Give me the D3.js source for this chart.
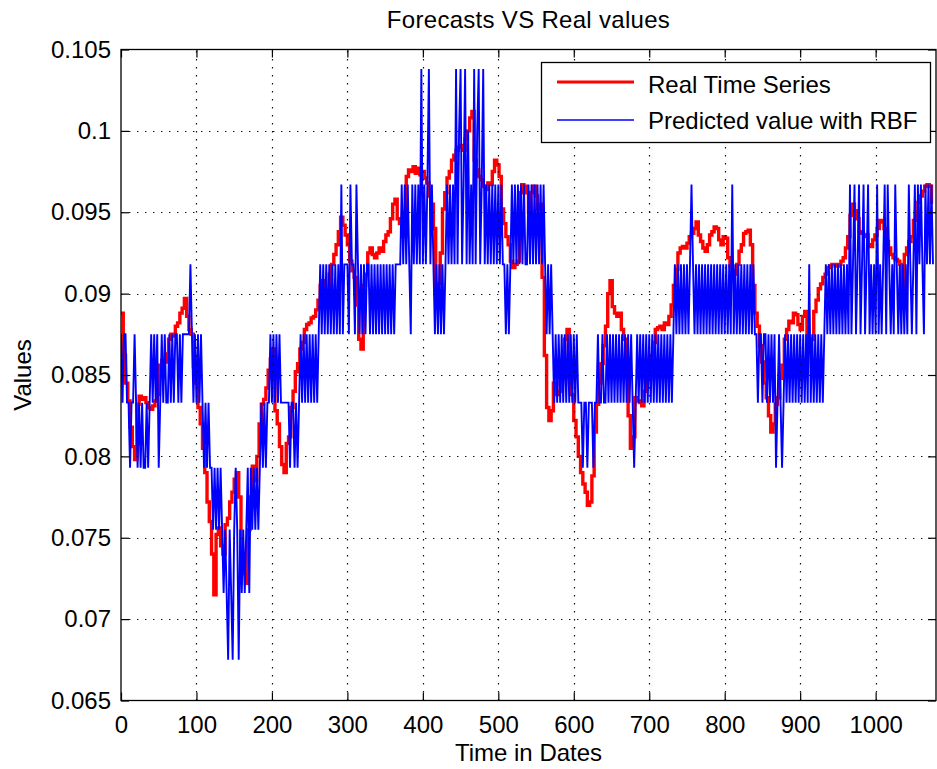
<!DOCTYPE html>
<html>
<head>
<meta charset="utf-8">
<script src="https://cdn.jsdelivr.net/npm/d3@7"></script>
<style>
  html, body { margin: 0; padding: 0; background: #fff; }
  svg text { font-family: "Liberation Sans", Arial, Helvetica, sans-serif; fill: #000; }
</style>
</head>
<body>
<svg id="chart" width="937" height="769"></svg>
<script>
// ---- chart text ----
const titleText = "Forecasts VS Real values";
const xLabelText = "Time in Dates";
const yLabelText = "Values";
const seriesNames = ["Real Time Series", "Predicted value with RBF"];

// ---- axis ticks ----
const xTicks = [0, 100, 200, 300, 400, 500, 600, 700, 800, 900, 1000];
const yTicks = [0.065, 0.07, 0.075, 0.08, 0.085, 0.09, 0.095, 0.1, 0.105];
const yTickLabels = ["0.065", "0.07", "0.075", "0.08", "0.085", "0.09", "0.095", "0.1", "0.105"];
const xDomain = [0, 1080];
const yDomain = [0.065, 0.105];

// ---- real series: one value every 3 days, from day 0 ----
const realStep = 3;
const realValues = [
  0.0888, 0.0862, 0.0845, 0.0834, 0.0818, 0.0806, 0.0798, 0.0832, 0.0837, 0.0835, 0.0836, 0.0833, 0.0830, 0.0829, 0.0831, 0.0834, 0.0838, 0.0856, 0.0859, 0.0858,
  0.0863, 0.0872, 0.0875, 0.0874, 0.0880, 0.0882, 0.0888, 0.0891, 0.0897, 0.0886, 0.0878, 0.0875, 0.0855, 0.0845, 0.0830, 0.0820, 0.0805, 0.0790, 0.0772, 0.0760,
  0.0740, 0.0715, 0.0752, 0.0756, 0.0745, 0.0740, 0.0758, 0.0762, 0.0772, 0.0778, 0.0786, 0.0790, 0.0775, 0.0738, 0.0728, 0.0722, 0.0755, 0.0775, 0.0794, 0.0785,
  0.0800, 0.0820, 0.0832, 0.0835, 0.0842, 0.0853, 0.0860, 0.0866, 0.0828, 0.0820, 0.0806, 0.0795, 0.0790, 0.0808, 0.0812, 0.0830, 0.0840, 0.0852, 0.0857, 0.0866,
  0.0870, 0.0878, 0.0881, 0.0882, 0.0885, 0.0886, 0.0890, 0.0896, 0.0905, 0.0908, 0.0902, 0.0899, 0.0912, 0.0918, 0.0924, 0.0930, 0.0938, 0.0947, 0.0942, 0.0936,
  0.0930, 0.0920, 0.0914, 0.0910, 0.0893, 0.0872, 0.0866, 0.0905, 0.0912, 0.0925, 0.0928, 0.0924, 0.0922, 0.0925, 0.0928, 0.0926, 0.0932, 0.0936, 0.0938, 0.0946,
  0.0955, 0.0958, 0.0946, 0.0943, 0.0935, 0.0950, 0.0972, 0.0976, 0.0975, 0.0978, 0.0974, 0.0977, 0.0973, 0.0975, 0.0971, 0.0968, 0.0960, 0.0955, 0.0940, 0.0902,
  0.0906, 0.0925, 0.0952, 0.0962, 0.0971, 0.0975, 0.0982, 0.0985, 0.0988, 0.0990, 0.0991, 0.0988, 0.0995, 0.1000, 0.1008, 0.1012, 0.0982, 0.0976, 0.0972, 0.0970,
  0.0966, 0.0964, 0.0968, 0.0967, 0.0975, 0.0982, 0.0979, 0.0972, 0.0952, 0.0943, 0.0935, 0.0930, 0.0920, 0.0916, 0.0918, 0.0920, 0.0962, 0.0967, 0.0966, 0.0962,
  0.0950, 0.0962, 0.0966, 0.0960, 0.0952, 0.0955, 0.0910, 0.0862, 0.0830, 0.0822, 0.0828, 0.0845, 0.0838, 0.0840, 0.0846, 0.0848, 0.0872, 0.0878, 0.0850, 0.0838,
  0.0822, 0.0812, 0.0800, 0.0790, 0.0783, 0.0778, 0.0770, 0.0772, 0.0788, 0.0815, 0.0832, 0.0845, 0.0857, 0.0868, 0.0880, 0.0900, 0.0908, 0.0892, 0.0888, 0.0886,
  0.0888, 0.0878, 0.0872, 0.0860, 0.0825, 0.0805, 0.0812, 0.0836, 0.0834, 0.0833, 0.0831, 0.0840, 0.0850, 0.0853, 0.0862, 0.0870, 0.0878, 0.0879, 0.0880, 0.0878,
  0.0882, 0.0881, 0.0886, 0.0893, 0.0905, 0.0915, 0.0925, 0.0928, 0.0929, 0.0928, 0.0931, 0.0935, 0.0937, 0.0940, 0.0944, 0.0936, 0.0932, 0.0928, 0.0926, 0.0930,
  0.0936, 0.0938, 0.0941, 0.0940, 0.0933, 0.0930, 0.0935, 0.0934, 0.0922, 0.0917, 0.0914, 0.0912, 0.0918, 0.0926, 0.0930, 0.0937, 0.0938, 0.0939, 0.0930, 0.0905,
  0.0888, 0.0880, 0.0868, 0.0858, 0.0845, 0.0836, 0.0825, 0.0815, 0.0820, 0.0832, 0.0836, 0.0848, 0.0856, 0.0872, 0.0878, 0.0883, 0.0882, 0.0888, 0.0887, 0.0881,
  0.0878, 0.0886, 0.0889, 0.0870, 0.0864, 0.0872, 0.0889, 0.0896, 0.0903, 0.0906, 0.0910, 0.0912, 0.0916, 0.0917, 0.0918, 0.0918, 0.0917, 0.0918, 0.0920, 0.0922,
  0.0928, 0.0935, 0.0948, 0.0955, 0.0951, 0.0946, 0.0938, 0.0937, 0.0935, 0.0936, 0.0930, 0.0929, 0.0933, 0.0936, 0.0940, 0.0945, 0.0944, 0.0940, 0.0932, 0.0928,
  0.0924, 0.0922, 0.0921, 0.0920, 0.0918, 0.0903, 0.0924, 0.0928, 0.0932, 0.0935, 0.0945, 0.0950, 0.0956, 0.0960, 0.0963, 0.0966, 0.0967, 0.0966, 0.0955
];

// ---- RBF prediction: one value every 2 days, from day 0 ----
const predStep = 2;
const predictedValues = [
  0.0875, 0.0833, 0.0875, 0.0875, 0.0833, 0.0833, 0.0793, 0.0833, 0.0833, 0.0875, 0.0833, 0.0793, 0.0833, 0.0793, 0.0833, 0.0793, 0.0793, 0.0833, 0.0793, 0.0833,
  0.0875, 0.0833, 0.0875, 0.0833, 0.0875, 0.0793, 0.0833, 0.0875, 0.0833, 0.0875, 0.0833, 0.0833, 0.0875, 0.0833, 0.0875, 0.0833, 0.0875, 0.0875, 0.0833, 0.0875,
  0.0833, 0.0875, 0.0875, 0.0875, 0.0875, 0.0875, 0.0918, 0.0875, 0.0833, 0.0875, 0.0833, 0.0875, 0.0833, 0.0875, 0.0833, 0.0793, 0.0833, 0.0793, 0.0833, 0.0793,
  0.0793, 0.0755, 0.0793, 0.0755, 0.0793, 0.0755, 0.0793, 0.0755, 0.0716, 0.0755, 0.0716, 0.0675, 0.0755, 0.0716, 0.0675, 0.0755, 0.0793, 0.0755, 0.0675, 0.0755,
  0.0716, 0.0755, 0.0716, 0.0755, 0.0793, 0.0716, 0.0793, 0.0755, 0.0793, 0.0755, 0.0793, 0.0755, 0.0793, 0.0833, 0.0793, 0.0833, 0.0793, 0.0833, 0.0833, 0.0875,
  0.0833, 0.0875, 0.0833, 0.0875, 0.0833, 0.0875, 0.0833, 0.0833, 0.0833, 0.0833, 0.0833, 0.0833, 0.0793, 0.0833, 0.0833, 0.0793, 0.0833, 0.0793, 0.0833, 0.0875,
  0.0833, 0.0875, 0.0833, 0.0875, 0.0833, 0.0875, 0.0833, 0.0875, 0.0833, 0.0875, 0.0833, 0.0875, 0.0918, 0.0875, 0.0918, 0.0875, 0.0918, 0.0875, 0.0918, 0.0875,
  0.0918, 0.0875, 0.0918, 0.0875, 0.0918, 0.0875, 0.0967, 0.0875, 0.0918, 0.0918, 0.0918, 0.0875, 0.0967, 0.0918, 0.0918, 0.0875, 0.0967, 0.0918, 0.0875, 0.0918,
  0.0875, 0.0918, 0.0875, 0.0918, 0.0918, 0.0875, 0.0918, 0.0875, 0.0918, 0.0875, 0.0918, 0.0875, 0.0918, 0.0875, 0.0918, 0.0875, 0.0918, 0.0875, 0.0918, 0.0875,
  0.0918, 0.0875, 0.0918, 0.0918, 0.0918, 0.0918, 0.0967, 0.0918, 0.0967, 0.0918, 0.0967, 0.0918, 0.0875, 0.0967, 0.0918, 0.0967, 0.0918, 0.0967, 0.0918, 0.1038,
  0.0918, 0.0967, 0.0918, 0.0967, 0.1038, 0.0918, 0.0967, 0.0918, 0.0875, 0.0918, 0.0875, 0.0918, 0.0875, 0.0918, 0.0875, 0.0918, 0.0967, 0.0918, 0.0967, 0.0918,
  0.0967, 0.0918, 0.1038, 0.0918, 0.1000, 0.1038, 0.0918, 0.0967, 0.1038, 0.0918, 0.1000, 0.0918, 0.0967, 0.0918, 0.1038, 0.0918, 0.1000, 0.1038, 0.0918, 0.0967,
  0.1038, 0.0918, 0.0967, 0.0918, 0.0967, 0.0918, 0.0967, 0.0918, 0.0967, 0.0918, 0.0967, 0.0918, 0.0967, 0.0918, 0.0918, 0.0875, 0.0918, 0.0875, 0.0918, 0.0967,
  0.0918, 0.0967, 0.0918, 0.0967, 0.0918, 0.0967, 0.0918, 0.0967, 0.0918, 0.0918, 0.0967, 0.0918, 0.0967, 0.0918, 0.0967, 0.0918, 0.0967, 0.0918, 0.0967, 0.0918,
  0.0967, 0.0918, 0.0875, 0.0918, 0.0875, 0.0918, 0.0875, 0.0833, 0.0875, 0.0833, 0.0875, 0.0833, 0.0875, 0.0833, 0.0875, 0.0833, 0.0875, 0.0833, 0.0875, 0.0833,
  0.0875, 0.0833, 0.0875, 0.0833, 0.0833, 0.0833, 0.0793, 0.0833, 0.0833, 0.0793, 0.0833, 0.0833, 0.0833, 0.0793, 0.0833, 0.0833, 0.0875, 0.0833, 0.0833, 0.0875,
  0.0833, 0.0833, 0.0875, 0.0833, 0.0875, 0.0833, 0.0875, 0.0833, 0.0875, 0.0833, 0.0875, 0.0833, 0.0875, 0.0833, 0.0875, 0.0833, 0.0875, 0.0833, 0.0875, 0.0833,
  0.0793, 0.0833, 0.0875, 0.0833, 0.0875, 0.0833, 0.0875, 0.0833, 0.0875, 0.0833, 0.0875, 0.0833, 0.0875, 0.0833, 0.0875, 0.0833, 0.0875, 0.0833, 0.0875, 0.0833,
  0.0875, 0.0833, 0.0875, 0.0833, 0.0875, 0.0833, 0.0875, 0.0918, 0.0875, 0.0918, 0.0875, 0.0918, 0.0875, 0.0918, 0.0875, 0.0918, 0.0875, 0.0918, 0.0967, 0.0918,
  0.0875, 0.0918, 0.0875, 0.0918, 0.0875, 0.0918, 0.0875, 0.0918, 0.0875, 0.0918, 0.0875, 0.0918, 0.0875, 0.0918, 0.0875, 0.0918, 0.0875, 0.0918, 0.0875, 0.0918,
  0.0875, 0.0918, 0.0875, 0.0918, 0.0875, 0.0967, 0.0875, 0.0918, 0.0875, 0.0918, 0.0875, 0.0918, 0.0875, 0.0918, 0.0875, 0.0918, 0.0875, 0.0918, 0.0875, 0.0918,
  0.0875, 0.0875, 0.0833, 0.0875, 0.0875, 0.0833, 0.0875, 0.0875, 0.0833, 0.0875, 0.0833, 0.0875, 0.0833, 0.0875, 0.0793, 0.0833, 0.0875, 0.0833, 0.0793, 0.0833,
  0.0875, 0.0833, 0.0875, 0.0833, 0.0875, 0.0833, 0.0875, 0.0833, 0.0875, 0.0833, 0.0875, 0.0833, 0.0875, 0.0833, 0.0875, 0.0833, 0.0918, 0.0833, 0.0875, 0.0833,
  0.0875, 0.0833, 0.0875, 0.0833, 0.0875, 0.0833, 0.0875, 0.0918, 0.0875, 0.0918, 0.0875, 0.0918, 0.0875, 0.0918, 0.0875, 0.0918, 0.0875, 0.0918, 0.0875, 0.0918,
  0.0875, 0.0918, 0.0875, 0.0967, 0.0875, 0.0918, 0.0967, 0.0875, 0.0918, 0.0967, 0.0875, 0.0918, 0.0967, 0.0875, 0.0918, 0.0967, 0.0875, 0.0918, 0.0875, 0.0918,
  0.0875, 0.0967, 0.0875, 0.0918, 0.0875, 0.0918, 0.0967, 0.0875, 0.0967, 0.0918, 0.0875, 0.0918, 0.0875, 0.0967, 0.0918, 0.0875, 0.0918, 0.0875, 0.0918, 0.0875,
  0.0918, 0.0875, 0.0967, 0.0918, 0.0875, 0.0918, 0.0967, 0.0875, 0.0967, 0.0918, 0.0967, 0.0918, 0.0875, 0.0967, 0.0918, 0.0967, 0.0918, 0.0967, 0.0918
];

const seriesColors = ["#ff0000", "#0000ff"];

// ---- layout ----
const svg = d3.select("#chart");
const plot = { left: 121, right: 936, top: 49.5, bottom: 700.5 };

const x = d3.scaleLinear().domain(xDomain).range([plot.left, plot.right]);
const y = d3.scaleLinear().domain(yDomain).range([plot.bottom, plot.top]);

const realData = realValues.map((v, i) => ({ day: i * realStep, v }));
const predData = predictedValues.map((v, i) => ({ day: i * predStep, v }));

svg.append("rect").attr("width", 937).attr("height", 769).attr("fill", "#fff");

svg.append("defs").append("clipPath").attr("id", "plot-clip")
  .append("rect")
  .attr("x", plot.left).attr("y", plot.top)
  .attr("width", plot.right - plot.left).attr("height", plot.bottom - plot.top);

// ---- series ----
const series = svg.append("g").attr("clip-path", "url(#plot-clip)");

// daily closing values hold until the next reading: stepped red trace
const realLine = d3.line().curve(d3.curveStepAfter).x(d => x(d.day)).y(d => y(d.v));
const predLine = d3.line().x(d => x(d.day)).y(d => y(d.v));

series.append("path")
  .datum(realData)
  .attr("fill", "none")
  .attr("stroke", seriesColors[0])
  .attr("stroke-width", 3.4)
  .attr("stroke-linejoin", "miter")
  .attr("d", realLine);

series.append("path")
  .datum(predData)
  .attr("fill", "none")
  .attr("stroke", seriesColors[1])
  .attr("stroke-width", 1.9)
  .attr("d", predLine);

// ---- dotted grid ----
const grid = svg.append("g")
  .attr("stroke", "#111")
  .attr("stroke-width", 1.2)
  .attr("stroke-dasharray", "1.4,6.6");

grid.selectAll("line.gx")
  .data(xTicks.filter(t => t > xDomain[0] && t < xDomain[1]))
  .join("line").attr("class", "gx")
  .attr("x1", d => Math.round(x(d)) + 0.5).attr("x2", d => Math.round(x(d)) + 0.5)
  .attr("y1", plot.bottom).attr("y2", plot.top);

grid.selectAll("line.gy")
  .data(yTicks.filter(t => t > yDomain[0] && t < yDomain[1]))
  .join("line").attr("class", "gy")
  .attr("y1", d => Math.round(y(d)) + 0.5).attr("y2", d => Math.round(y(d)) + 0.5)
  .attr("x1", plot.left).attr("x2", plot.right);

// ---- axes (ticks inside the box) ----
const tickLen = 8;
const fmtY = d => yTickLabels[yTicks.indexOf(d)];

const axisFont = g => g.selectAll("text").attr("font-size", 24).attr("fill", "#000");
const axisStyle = g => {
  g.select(".domain").remove();
  g.selectAll(".tick line").attr("stroke", "#000").attr("stroke-width", 1.2);
};

svg.append("g")
  .attr("transform", `translate(0,${plot.bottom})`)
  .call(d3.axisBottom(x).tickValues(xTicks).tickSize(-tickLen).tickPadding(15).tickFormat(d3.format("d")))
  .call(axisStyle).call(axisFont)
  .attr("font-family", null);

svg.append("g")
  .attr("transform", `translate(0,${plot.top})`)
  .call(d3.axisTop(x).tickValues(xTicks).tickSize(-tickLen).tickFormat(""))
  .call(axisStyle);

svg.append("g")
  .attr("transform", `translate(${plot.left},0)`)
  .call(d3.axisLeft(y).tickValues(yTicks).tickSize(-tickLen).tickPadding(10).tickFormat(fmtY))
  .call(axisStyle).call(axisFont)
  .attr("font-family", null);

svg.append("g")
  .attr("transform", `translate(${plot.right},0)`)
  .call(d3.axisRight(y).tickValues(yTicks).tickSize(-tickLen).tickFormat(""))
  .call(axisStyle);

// axes box
svg.append("rect")
  .attr("x", plot.left).attr("y", plot.top)
  .attr("width", plot.right - plot.left).attr("height", plot.bottom - plot.top)
  .attr("fill", "none").attr("stroke", "#000").attr("stroke-width", 1.3);

// ---- titles ----
const midX = (plot.left + plot.right) / 2;
svg.append("text")
  .attr("x", midX).attr("y", 28)
  .attr("text-anchor", "middle").attr("font-size", 24)
  .attr("letter-spacing", 0.3)
  .text(titleText);

svg.append("text")
  .attr("x", midX).attr("y", 761)
  .attr("text-anchor", "middle").attr("font-size", 24)
  .text(xLabelText);

svg.append("text")
  .attr("transform", `translate(31,${(plot.top + plot.bottom) / 2}) rotate(-90)`)
  .attr("text-anchor", "middle").attr("font-size", 24)
  .text(yLabelText);

// ---- legend ----
const legend = svg.append("g");
legend.append("rect")
  .attr("x", 541.5).attr("y", 62.5).attr("width", 389).attr("height", 80)
  .attr("fill", "#fff").attr("stroke", "#000").attr("stroke-width", 1.3);

const legendRows = [
  { name: seriesNames[0], color: seriesColors[0], width: 3, lineY: 82, textY: 93 },
  { name: seriesNames[1], color: seriesColors[1], width: 1.5, lineY: 120, textY: 129 }
];
legendRows.forEach(r => {
  legend.append("line")
    .attr("x1", 557).attr("x2", 634).attr("y1", r.lineY).attr("y2", r.lineY)
    .attr("stroke", r.color).attr("stroke-width", r.width);
  legend.append("text")
    .attr("x", 648).attr("y", r.textY).attr("font-size", 24)
    .text(r.name);
});
</script>
</body>
</html>
